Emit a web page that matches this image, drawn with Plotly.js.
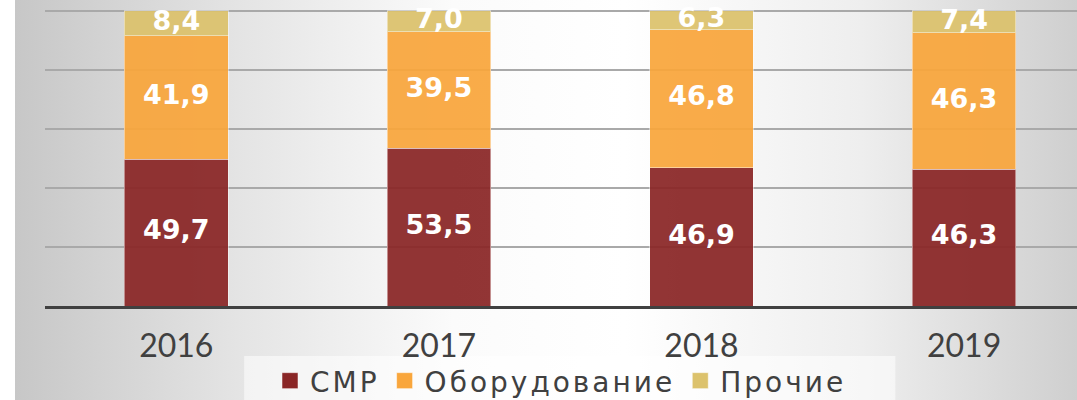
<!DOCTYPE html>
<html>
<head>
<meta charset="utf-8">
<script src="https://cdn.plot.ly/plotly-3.0.1.min.js"></script>
<style>
  html, body { margin: 0; padding: 0; background: #fff; }
  #chart {
    width: 1077px; height: 400px;
    background: linear-gradient(to right, #ffffff 0px, #ffffff 15px, #c7c7c7 15px, #e4e4e4 22%, #fbfbfb 42%, #ffffff 58%, #eeeeee 80%, #cfcfcf 100%);
  }
  .legendtext { letter-spacing: 3px; }
</style>
</head>
<body>
<div id="chart"></div>
<script>
const years = ['2016', '2017', '2018', '2019'];
const smr = [49.7, 53.5, 46.9, 46.3];
const equipment = [41.9, 39.5, 46.8, 46.3];
const other = [8.4, 7.0, 6.3, 7.4];

const seriesNames = ['СМР', 'Оборудование', 'Прочие'];
const seriesValues = [smr, equipment, other];
const seriesColors = ['#8a2626', '#f9a63c', '#dcc26c'];

const tickFont = 'Lato, "DejaVu Sans", sans-serif';
const labelFont = '"DejaVu Sans", sans-serif';

const traces = seriesValues.map((vals, i) => ({
  type: 'bar',
  name: seriesNames[i],
  x: years,
  y: vals,
  showlegend: false,
  marker: { color: seriesColors[i], opacity: 0.93, line: { color: 'rgba(255,255,255,0.45)', width: 1 } },
  textposition: 'none',
  hoverinfo: 'skip'
}));

// value labels centred in each segment
const fmt = v => v.toFixed(1).replace('.', ',');
const base = years.map(() => 0);
seriesValues.forEach((vals) => {
  const mids = vals.map((v, j) => base[j] + v / 2);
  vals.forEach((v, j) => { base[j] += v; });
  traces.push({
    type: 'scatter', mode: 'text', x: years, y: mids,
    text: vals.map(fmt), textposition: 'middle center',
    textfont: { family: labelFont, size: 27, color: '#ffffff', weight: 'bold' },
    cliponaxis: false, showlegend: false, hoverinfo: 'skip'
  });
});

// legend-only entries (larger square symbols)
seriesNames.forEach((name, i) => {
  traces.push({
    type: 'scatter', mode: 'markers', name: name,
    x: [null], y: [null], showlegend: true,
    marker: { symbol: 'square', size: 20, color: seriesColors[i], line: { color: 'rgba(255,255,255,0.5)', width: 1 } },
    hoverinfo: 'skip'
  });
});

const layout = {
  width: 1077, height: 400,
  margin: { l: 45, r: 0, t: 0, b: 94, pad: 0, autoexpand: false },
  paper_bgcolor: 'rgba(0,0,0,0)',
  plot_bgcolor: 'rgba(0,0,0,0)',
  barmode: 'stack',
  bargap: 0.605,
  showlegend: true,
  xaxis: {
    type: 'category',
    range: [-0.5, 3.43],
    automargin: false,
    showline: true, linecolor: '#404040', linewidth: 3,
    showgrid: false, ticks: '',
    ticklabelstandoff: 10,
    tickfont: { family: tickFont, size: 32, color: '#404040' }
  },
  yaxis: {
    range: [0, 103.7],
    automargin: false,
    showticklabels: false, ticks: '',
    showgrid: true, gridcolor: '#a9a9a9', gridwidth: 1.2,
    tickvals: [20, 40, 60, 80, 100],
    zeroline: false
  },
  legend: {
    orientation: 'h', x: 0.5, xanchor: 'center', y: -0.245, yanchor: 'middle',
    bgcolor: 'rgba(0,0,0,0)',
    font: { family: labelFont, size: 28, color: '#404040' },
    itemsizing: 'trace', traceorder: 'normal'
  },
  shapes: [{
    type: 'rect', xref: 'paper', yref: 'paper', layer: 'below',
    x0: 0.193, x1: 0.824, y0: -0.307, y1: -0.163,
    fillcolor: 'rgba(255,255,255,0.55)', line: { width: 0 }
  }]
};

Plotly.newPlot('chart', traces, layout, { displayModeBar: false, staticPlot: true });
</script>
</body>
</html>
